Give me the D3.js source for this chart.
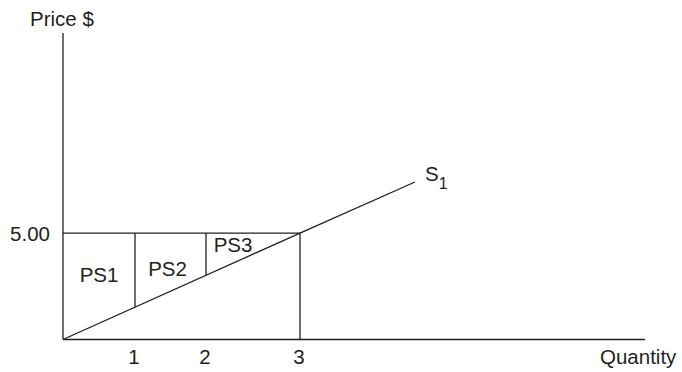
<!DOCTYPE html>
<html>
<head>
<meta charset="utf-8">
<script src="https://cdn.jsdelivr.net/npm/d3@7"></script>
<style>
  html, body { margin: 0; padding: 0; background: #fff; }
  svg text { font-family: "Liberation Sans", Arial, Helvetica, sans-serif; fill: #231f20; }
</style>
</head>
<body>
<svg id="chart" width="682" height="372"></svg>
<script>
// Producer surplus: supply curve S1, market price 5.00, units 1..3
const quantityTicks = [1, 2, 3];
const quantityTickLabels = ["1", "2", "3"];
const marketPrice = 5.00;
const priceTickLabels = ["5.00"];
const supplyCurve = [[0, 0], [3, 5.00], [4.5, 7.4]];   // [quantity, price]
const surplusLabels = ["PS1", "PS2", "PS3"];
const supplyName = "S";
const supplyIndex = "1";
const xTitle = "Quantity";
const yTitle = "Price $";

const svg = d3.select("#chart");
const ink = "#231f20";
const stroke = 1.3;
const fontSize = 20.5;

const origin = { x: 63, y: 339.5 };
const xEnd = 645, yTop = 33;
const qMax = 7.5, pMax = 14.4;

// Schematic quantity axis: unit steps are drawn unevenly, as in a textbook sketch
const x = d3.scaleLinear()
  .domain([0, 1, 2, 3, qMax])
  .range([origin.x, 135, 206, 300, xEnd]);
const y = d3.scaleLinear()
  .domain([0, pMax])
  .range([origin.y, yTop]);

// Price on the (straight, as drawn) supply segment at a given quantity
const supplyAt = q => {
  const px = x(q);
  const t = (px - x(supplyCurve[0][0])) / (x(supplyCurve[1][0]) - x(supplyCurve[0][0]));
  return supplyCurve[0][1] + t * (supplyCurve[1][1] - supplyCurve[0][1]);
};

const g = svg.append("g")
  .attr("stroke", ink)
  .attr("stroke-width", stroke)
  .attr("fill", "none");

// Axes
g.append("line").attr("x1", x(0)).attr("x2", x(0)).attr("y1", y(pMax)).attr("y2", y(0));
g.append("line").attr("x1", x(0)).attr("x2", x(qMax)).attr("y1", y(0)).attr("y2", y(0));

// Market price line
const qEq = quantityTicks[quantityTicks.length - 1];
g.append("line")
  .attr("x1", x(0)).attr("x2", x(qEq))
  .attr("y1", y(marketPrice)).attr("y2", y(marketPrice));

// Dividers at each unit, from price line down to the supply curve
g.selectAll("line.unit")
  .data(quantityTicks)
  .join("line")
  .attr("class", "unit")
  .attr("x1", d => x(d)).attr("x2", d => x(d))
  .attr("y1", y(marketPrice))
  .attr("y2", d => d === qEq ? y(0) : y(supplyAt(d)));

// Supply curve
g.append("path")
  .datum(supplyCurve)
  .attr("d", d3.line().x(d => x(d[0])).y(d => y(d[1])));

// Text
const t = svg.append("g").attr("font-size", fontSize);

t.append("text").attr("x", 30).attr("y", 26).text(yTitle);
t.append("text").attr("x", 600).attr("y", 364).text(xTitle);

t.selectAll("text.qtick")
  .data(quantityTicks)
  .join("text")
  .attr("class", "qtick")
  .attr("x", d => x(d) - 1)
  .attr("y", 364)
  .attr("text-anchor", "middle")
  .text((d, i) => quantityTickLabels[i]);

t.append("text")
  .attr("x", 50)
  .attr("y", y(marketPrice) + 7.5)
  .attr("text-anchor", "end")
  .text(priceTickLabels[0]);

// Surplus area labels
const bounds = [0].concat(quantityTicks);
const labelDx = [0, -3, -20];
const labelY = [282, 276, 252];
t.selectAll("text.ps")
  .data(surplusLabels)
  .join("text")
  .attr("class", "ps")
  .attr("text-anchor", "middle")
  .attr("x", (d, i) => (x(bounds[i]) + x(bounds[i + 1])) / 2 + labelDx[i])
  .attr("y", (d, i) => labelY[i])
  .text(d => d);

// Supply curve name with subscript
const last = supplyCurve[supplyCurve.length - 1];
const sLabel = t.append("text")
  .attr("x", x(last[0]) + 10)
  .attr("y", y(last[1]) - 1);
sLabel.append("tspan").text(supplyName);
sLabel.append("tspan").attr("font-size", 16).attr("dy", 8).text(supplyIndex);
</script>
</body>
</html>
